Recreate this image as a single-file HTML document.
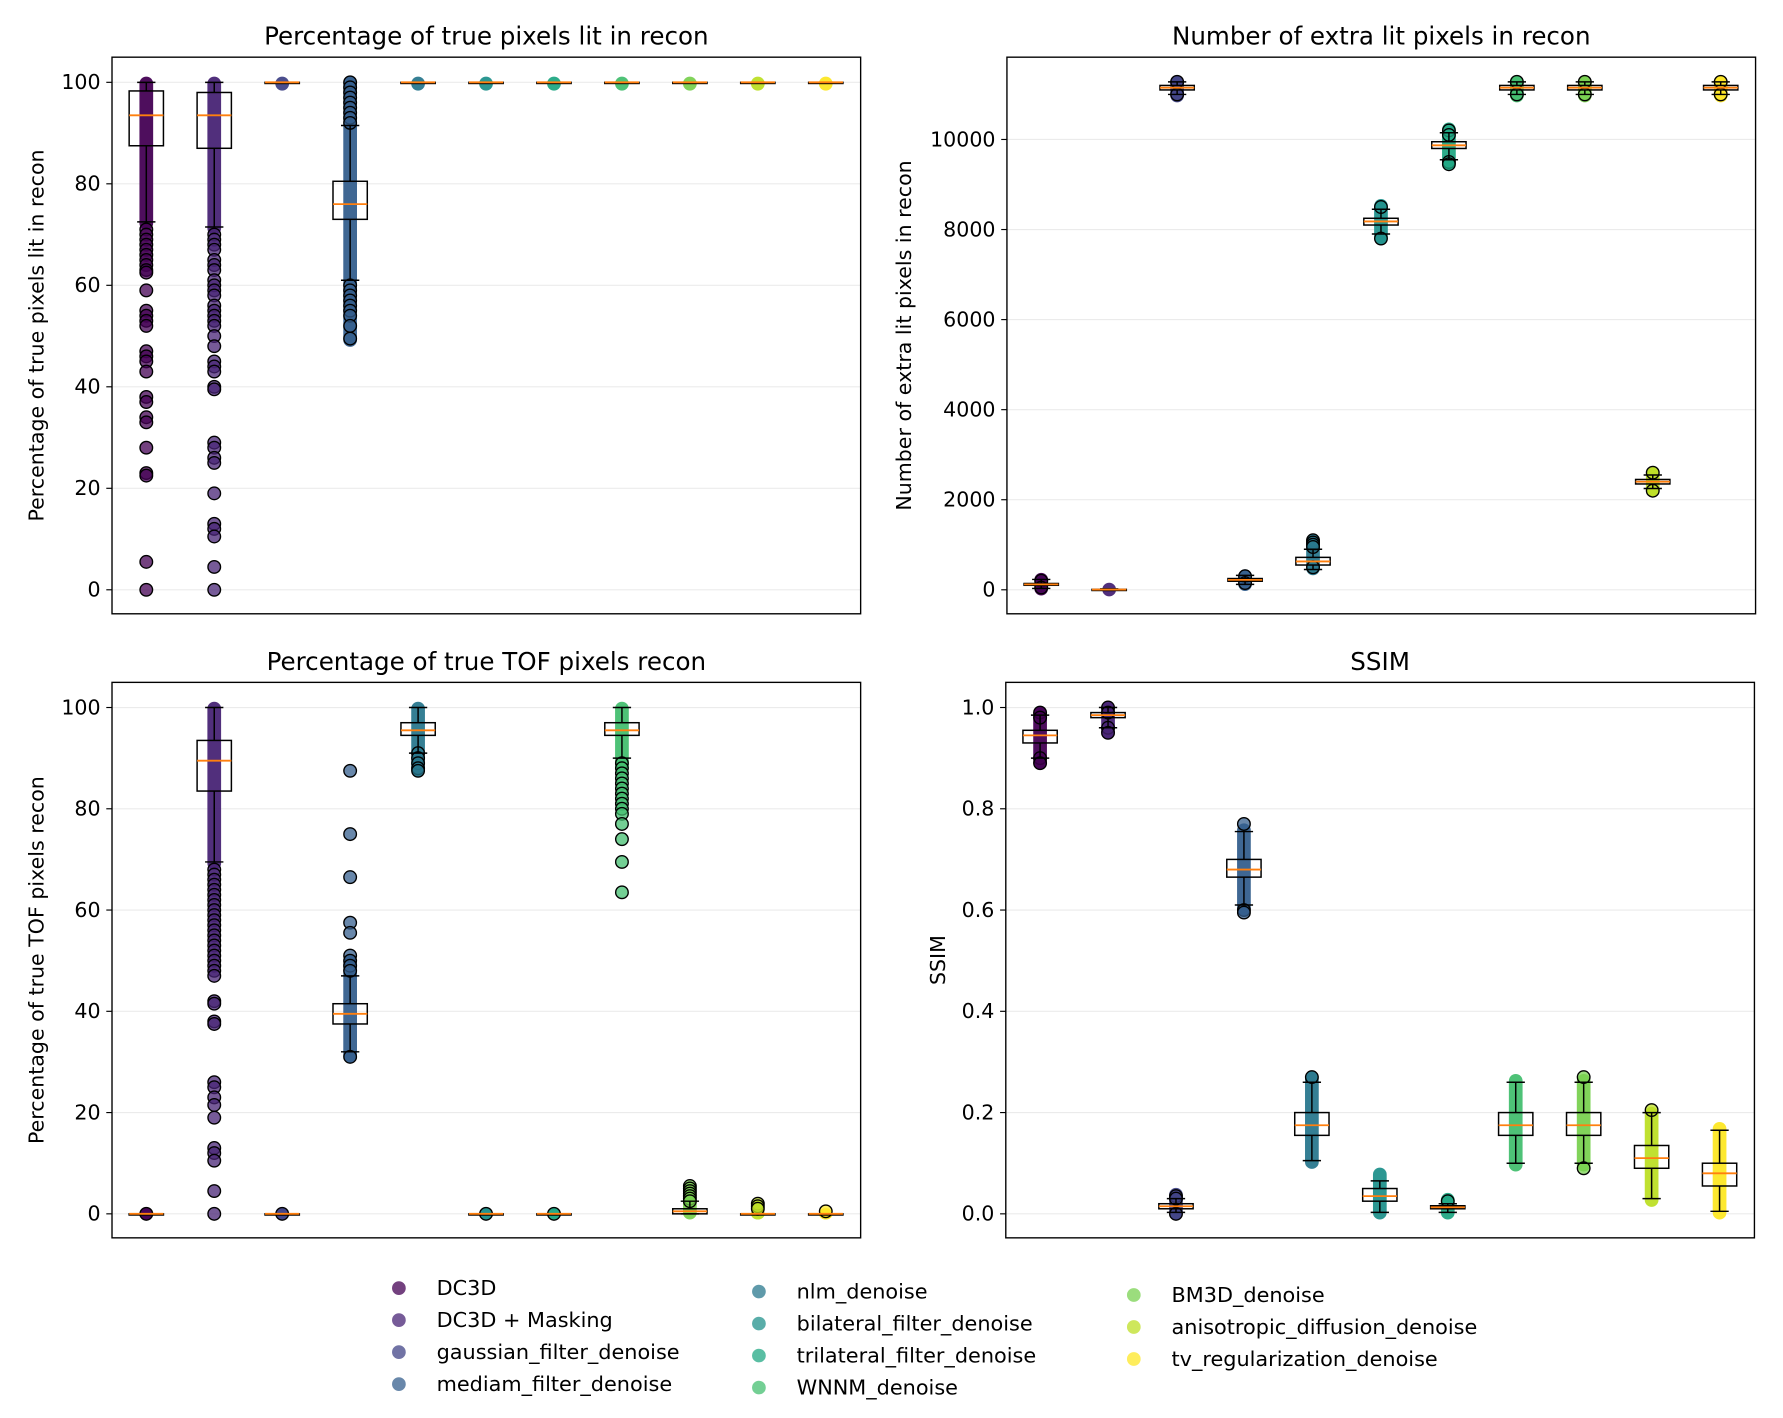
<!DOCTYPE html>
<html><head><meta charset="utf-8"><style>
html,body{margin:0;padding:0;background:#fff;}
svg{display:block;font-family:"DejaVu Sans","Liberation Sans",sans-serif;}
</style></head><body>
<svg id="chart" width="1783" height="1418" viewBox="0 0 1560 1240.6" xmlns="http://www.w3.org/2000/svg"></svg>
<script>
const methods = ["DC3D","DC3D + Masking","gaussian_filter_denoise","mediam_filter_denoise","nlm_denoise","bilateral_filter_denoise","trilateral_filter_denoise","WNNM_denoise","BM3D_denoise","anisotropic_diffusion_denoise","tv_regularization_denoise"];
const colors = ["#440154","#482475","#414487","#355f8d","#2a788e","#21918c","#22a884","#44bf70","#7ad151","#bddf26","#fde725"];

// Panel 1: percentage of true pixels lit — [q1, median, q3, whiskerLo, whiskerHi, stripLo, stripHi]
const p1Stats = [[87.5,93.5,98.3,72.5,100,72,100],[87,93.5,98,71.5,100,71,100],[100,100,100,100,100,99.5,100],[73,76,80.5,61,91.5,49,100],[100,100,100,100,100,99.5,100],[100,100,100,100,100,99.5,100],[100,100,100,100,100,99.5,100],[100,100,100,100,100,99.5,100],[100,100,100,100,100,99.5,100],[100,100,100,100,100,99.5,100],[100,100,100,100,100,99.5,100]];
const p1Out = [[71,70,69,68,67,66,65,64,63,62.5,59,55,54,53,52,47,46,45,43,38,37,34,33,28,23,22.5,5.5,0],[70,69,68,67,65,64,63,61,60,59,58,56,55,54,53,52,50,48,45,44,43,40,39.5,29,28,26,25,19,13,12,10.5,4.5,0],[],[100,99,98,97,96,95,94,93,92,60,59,58,57,56,55,54,52,49.5],[],[],[],[],[],[],[]];
// Panel 2: extra lit pixels
const p2Stats = [[100,120,140,30,230,0,250],[0,5,10,0,20,-20,30],[11100,11150,11200,11000,11280,10950,11300],[190,220,250,120,320,100,330],[550,630,720,450,900,450,1100],[8100,8180,8250,7900,8450,7800,8550],[9800,9870,9950,9550,10150,9450,10250],[11100,11150,11200,11000,11280,10950,11300],[11100,11150,11200,11000,11280,10950,11300],[2350,2400,2450,2250,2550,2200,2600],[11100,11150,11200,11000,11280,10950,11300]];
const p2Out = [[200,50],[],[11280,11000],[300,150],[1100,1050,1000,950,500],[8500,7800],[10200,10100,9500,9450],[11280,11000],[11280,11000],[2600,2200],[11280,11000]];
// Panel 3: TOF pixels
const p3Stats = [[0,0,0,0,0,0,0],[83.5,89.5,93.5,69.5,100,69,100],[0,0,0,0,0,0,0],[37.5,39.5,41.5,32,47,31,50],[94.5,95.5,97,91,100,87.5,100],[0,0,0,0,0,0,0],[0,0,0,0,0,0,0],[94.5,95.5,97,90,100,88,100],[0,0.5,1,0,2.5,0,2.5],[0,0,0,0,0,0,0],[0,0,0,0,0,0,0]];
const p3Out = [[0],[68,67,66,65,64,63,62,61,60,59,58,57,56,55,54,53,52,51,50,49,48,47,42,41.5,38,37.5,26,25,23,21.5,19,13,12,10.5,4.5,0],[0],[87.5,75,66.5,57.5,55.5,51,50,49,48,31],[91,90,89,88,87.5],[0],[0],[89,88,87,86,85,84,83,82,81,80,79,77,74,69.5,63.5],[5.5,5,4.5,4,3.5,3,2.5],[2,1.5,1],[0.5]];
// Panel 4: SSIM
const p4Stats = [[0.93,0.945,0.955,0.9,0.985,0.89,0.99],[0.98,0.985,0.99,0.96,1.0,0.95,1.0],[0.01,0.015,0.02,0.003,0.03,0,0.04],[0.665,0.68,0.70,0.61,0.755,0.6,0.76],[0.155,0.175,0.2,0.105,0.26,0.1,0.27],[0.025,0.035,0.05,0.003,0.065,0,0.08],[0.01,0.013,0.016,0.003,0.02,0,0.03],[0.155,0.175,0.2,0.1,0.26,0.095,0.265],[0.155,0.175,0.2,0.1,0.26,0.095,0.265],[0.09,0.11,0.135,0.03,0.2,0.025,0.2],[0.055,0.08,0.1,0.005,0.165,0,0.17]];
const p4Out = [[0.99,0.98,0.9,0.89],[1.0,0.99,0.96,0.95],[0.035,0.03,0.0],[0.77,0.6,0.595],[0.27],[],[0.025],[],[0.27,0.09],[0.205],[]];

const p1Ticks=[0,20,40,60,80,100], p2Ticks=[0,2000,4000,6000,8000,10000], p3Ticks=[0,20,40,60,80,100], p4Ticks=[0,0.2,0.4,0.6,0.8,1.0];
const p4Labels=["0.0","0.2","0.4","0.6","0.8","1.0"];

const NS="http://www.w3.org/2000/svg";
const svg=document.getElementById('chart');
function mk(tag,attrs,parent){const e=document.createElementNS(NS,tag);for(const k in attrs)e.setAttribute(k,attrs[k]);(parent||svg).appendChild(e);return e;}

function panel(cfg){
  const g=mk('g',{});
  
  
  const y=v=>cfg.y0+(v-cfg.v0)*(cfg.y1-cfg.y0)/(cfg.v1-cfg.v0);
  const x=i=>cfg.x0+30+i*59.45;
  cfg.ticks.forEach((t,i)=>{
    const yy=y(t);
    const gl=mk('line',{x1:cfg.L,x2:cfg.R,y1:yy,y2:yy,stroke:'#ebebeb','stroke-width':1},g);
    
    
    mk('line',{x1:cfg.L-5,x2:cfg.L,y1:yy,y2:yy,stroke:'#000','stroke-width':1},g);
    const tl=mk('text',{x:cfg.L-10,y:yy+6,'text-anchor':'end','font-size':18,fill:'#000'},g);
    tl.textContent=cfg.labels?cfg.labels[i]:String(t);
    
    
  });
  cfg.stats.forEach((s,i)=>{
    const cx=x(i), c=colors[i];
    const grp=mk('g',{},g);
    
    
    const sh=Math.abs(y(s[6])-y(s[5]));
    mk('rect',{x:cx-6,y:Math.min(y(s[6]),y(s[5]))-5,width:12,height:sh+10,rx:6,fill:c,opacity:0.95},grp);
    cfg.out[i].forEach(v=>{
      mk('circle',{cx:cx,cy:y(v),r:5.5,fill:c,stroke:'#000','stroke-width':1.2,'fill-opacity':0.75},grp);
    });
    mk('line',{x1:cx,x2:cx,y1:y(s[3]),y2:y(s[0]),stroke:'#000','stroke-width':1.3},grp);
    mk('line',{x1:cx,x2:cx,y1:y(s[2]),y2:y(s[4]),stroke:'#000','stroke-width':1.3},grp);
    mk('line',{x1:cx-8,x2:cx+8,y1:y(s[3]),y2:y(s[3]),stroke:'#000','stroke-width':1.3},grp);
    mk('line',{x1:cx-8,x2:cx+8,y1:y(s[4]),y2:y(s[4]),stroke:'#000','stroke-width':1.3},grp);
    const bt=y(s[2]), bb=y(s[0]);
    mk('rect',{x:cx-15,y:bt,width:30,height:Math.max(bb-bt,1),fill:'none',stroke:'#000','stroke-width':1.3},grp);
    mk('line',{x1:cx-15,x2:cx+15,y1:y(s[1]),y2:y(s[1]),stroke:'#ff7f0e','stroke-width':1.6},grp);
  });
  const fr=mk('rect',{x:cfg.L,y:cfg.T,width:cfg.R-cfg.L,height:cfg.B-cfg.T,fill:'none',stroke:'#000','stroke-width':1.2},g);
  
  
  const ti=mk('text',{x:(cfg.L+cfg.R)/2,y:cfg.T-11,'text-anchor':'middle','font-size':21.5,fill:'#000'},g);
  ti.textContent=cfg.title;
  
  
  const yl=mk('text',{x:0,y:0,'text-anchor':'middle','font-size':18,fill:'#000',transform:`translate(${cfg.ylx},${(cfg.T+cfg.B)/2}) rotate(-90)`},g);
  yl.textContent=cfg.ylabel;
  
  
}

panel({name:'panel-true-pixels-lit',L:98,R:753,T:50,B:537,x0:98,y0:516,y1:72,v0:0,v1:100,ticks:p1Ticks,stats:p1Stats,out:p1Out,title:'Percentage of true pixels lit in recon',ylabel:'Percentage of true pixels lit in recon',ylx:38});
panel({name:'panel-extra-lit-pixels',L:881,R:1536,T:50,B:537,x0:881,y0:516,y1:122,v0:0,v1:10000,ticks:p2Ticks,stats:p2Stats,out:p2Out,title:'Number of extra lit pixels in recon',ylabel:'Number of extra lit pixels in recon',ylx:797});
panel({name:'panel-true-tof-pixels',L:98,R:753,T:597,B:1083,x0:98,y0:1062,y1:619,v0:0,v1:100,ticks:p3Ticks,stats:p3Stats,out:p3Out,title:'Percentage of true TOF pixels recon',ylabel:'Percentage of true TOF pixels recon',ylx:38});
panel({name:'panel-ssim',L:880,R:1535,T:597,B:1083,x0:880,y0:1062,y1:619,v0:0,v1:1,ticks:p4Ticks,labels:p4Labels,stats:p4Stats,out:p4Out,title:'SSIM',ylabel:'SSIM',ylx:827});

const legPos=[[349,1127],[349,1155],[349,1183],[349,1211],[664,1130],[664,1158],[664,1186],[664,1214],[992,1133],[992,1161],[992,1189]];
const lg=mk('g',{});


methods.forEach((m,i)=>{
  const e=mk('g',{},lg);
  
  
  mk('circle',{cx:legPos[i][0],cy:legPos[i][1],r:6,fill:colors[i],'fill-opacity':0.75},e);
  const t=mk('text',{x:legPos[i][0]+33,y:legPos[i][1]+6,'font-size':18.2,fill:'#000'},e);
  t.textContent=m;
});
</script>
</body></html>
